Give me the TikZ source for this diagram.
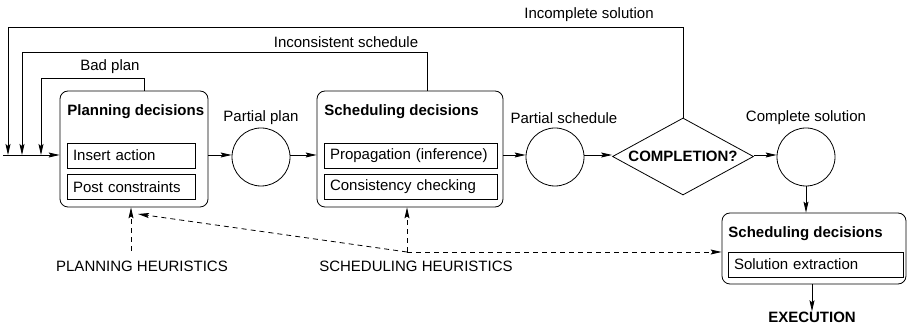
\documentclass[tikz,border=0pt]{standalone}
\usepackage{fontspec}
\setmainfont{Liberation Sans}
\usetikzlibrary{arrows.meta,positioning,shapes.geometric}

\begin{document}
\begin{tikzpicture}[x=1pt,y=-1pt,line width=0.8pt,
    >={Stealth[length=11pt,width=5pt,inset=2pt]},
    every node/.style={font=\fontsize{15}{18}\selectfont},
    decbox/.style={draw,rounded corners=8pt,inner sep=0pt},
    dectitle/.style={anchor=west,inner sep=0pt,font=\fontsize{15}{18}\selectfont\bfseries},
    inbox/.style={draw,inner xsep=6pt,inner ysep=0pt,minimum height=25pt,align=left},
    data/.style={draw,circle,minimum size=58pt,inner sep=0pt},
    test/.style={draw,diamond,aspect=1.83,minimum width=141pt,minimum height=77pt,inner sep=0pt,
        font=\fontsize{15}{18}\selectfont\bfseries},
    lbl/.style={inner sep=0pt},
    heur/.style={dash pattern=on 5pt off 4pt}]

    \useasboundingbox (0,0) rectangle (908,328);

    % planning decisions
    \node[decbox,minimum width=148pt,minimum height=116pt] (plan) at (134,149) {};
    \node[dectitle] (plantitle) at (67,112) {Planning decisions};
    \node[inbox,text width=116pt] (insert) at (131,155.5) {Insert action};
    \node[inbox,text width=116pt] (post) at (131,187) {Post constraints};

    % scheduling decisions
    \node[decbox,minimum width=186pt,minimum height=116pt] (sched) at (410,149) {};
    \node[dectitle] (schedtitle) at (324,112) {Scheduling decisions};
    \node[inbox,text width=161pt] (prop) at (410.5,155.5) {Propagation (inference)};
    \node[inbox,text width=161pt] (check) at (410.5,187) {Consistency checking};

    % intermediate results
    \node[data] (pp) at (261,157) {};
    \node[lbl,above=3pt of pp] (pplab) {Partial plan};
    \node[data] (ps) at (555,157) {};
    \node[lbl] (pslab) at (564,118) {Partial schedule};
    \node[test] (compl) at (683,156.5) {COMPLETION?};
    \node[data] (cs) at (806,157) {};
    \node[lbl,above=3pt of cs] (cslab) {Complete solution};

    % final extraction
    \node[decbox,minimum width=184pt,minimum height=71pt] (final) at (814,248.5) {};
    \node[dectitle] (finaltitle) at (728,234) {Scheduling decisions};
    \node[inbox,text width=163pt] (extract) at (815.5,264.5) {Solution extraction};
    \node[dectitle,anchor=center] (exec) at (812,317) {EXECUTION};

    % heuristics
    \node[lbl] (ph) at (142,266) {PLANNING HEURISTICS};
    \node[lbl] (sh) at (416,266) {SCHEDULING HEURISTICS};

    % main flow
    \coordinate (in) at (3,155);
    \draw[->] (in) -- (plan.west |- in);
    \draw[->] (plan.east |- in) -- (pp.west |- in);
    \draw[->] (pp.east |- in) -- (sched.west |- in);
    \draw[->] (sched.east |- in) -- (ps.west |- in);
    \draw[->] (ps.east |- in) -- (compl.west |- in);
    \draw[->] (compl.east |- in) -- (cs.west |- in);
    \draw[->] (cs.south) -- (cs.south |- final.north);
    \draw[->] (exec.north |- final.south) -- (exec.north);

    % feedback loops
    \coordinate (fb1) at (41,155);
    \coordinate (fb2) at (22,155);
    \coordinate (fb3) at (8,155);
    \coordinate (top1) at (0,78);
    \coordinate (top2) at (0,52);
    \coordinate (top3) at (0,27);
    \draw[->] ([xshift=10pt]plan.north) -- ([xshift=10pt]plan.north |- top1) -| (fb1);
    \node[lbl] (badlab) at (110,67) {Bad plan};
    \draw[->] ([xshift=17pt]sched.north) -- ([xshift=17pt]sched.north |- top2) -| (fb2);
    \node[lbl] (inconlab) at (346,42) {Inconsistent schedule};
    \draw[->] (compl.north) -- (compl.north |- top3) -| (fb3);
    \node[lbl] (incomplab) at (589,15) {Incomplete solution};

    % heuristic guidance
    \coordinate (phfoot) at (131,251);
    \coordinate (hub) at (407,252);
    \coordinate (phtip) at (138,214);
    \draw[->,heur] (phfoot) -- (phfoot |- plan.south);
    \draw[->,heur] (hub) -- (hub |- sched.south);
    \draw[->,heur] (hub) -- (phtip);
    \draw[->,heur] (hub) -- (hub -| final.west);

\end{tikzpicture}
\end{document}
